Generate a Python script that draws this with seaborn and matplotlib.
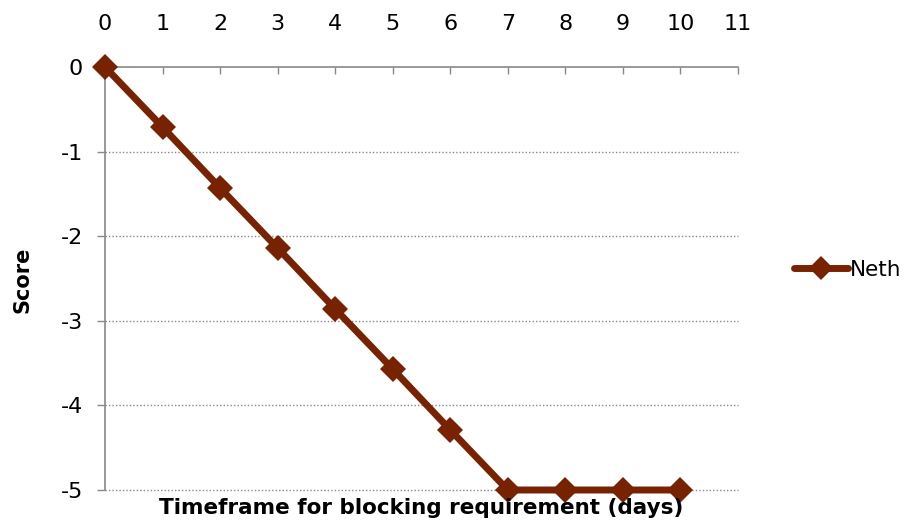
import matplotlib
matplotlib.use("Agg")
import matplotlib.pyplot as plt
import seaborn as sns
import pandas as pd
from matplotlib.lines import Line2D

# Score by blocking-requirement timeframe
days = [0, 1, 2, 3, 4, 5, 6, 7, 8, 9, 10]
score = [0, -0.71, -1.43, -2.14, -2.86, -3.57, -4.29, -5, -5, -5, -5]
series_name = "Neth"
x_ticks = list(range(0, 12))
y_ticks = [0, -1, -2, -3, -4, -5]

line_color = "#772200"
axis_color = "#888888"
text_color = "#000000"

sns.set_style("white")
plt.rcParams["font.family"] = ["DejaVu Sans"]
plt.rcParams["axes.unicode_minus"] = False
plt.rcParams["text.color"] = text_color
plt.rcParams["xtick.labelcolor"] = text_color
plt.rcParams["ytick.labelcolor"] = text_color

df = pd.DataFrame({"days": days, "score": score, "series": series_name})

fig = plt.figure(figsize=(9.08, 5.25), dpi=100)
ax = fig.add_axes([105 / 908, 1 - 490 / 525, (738 - 105) / 908, (490 - 67) / 525])

sns.lineplot(data=df, x="days", y="score", hue="series", palette=[line_color],
             marker="D", markersize=13, linewidth=5, markeredgewidth=0,
             ax=ax, legend=False, clip_on=False, zorder=5)

ax.set_xlim(0, 11)
ax.set_ylim(-5, 0)
ax.set_xticks(x_ticks)
ax.set_yticks(y_ticks)

# horizontal dotted gridlines
for yv in y_ticks[1:]:
    ax.axhline(yv, color=axis_color, linestyle=(0, (1, 1.5)), linewidth=1,
               zorder=1, clip_on=False)

# category axis along the top, value axis on the left
ax.xaxis.tick_top()
ax.tick_params(axis="x", direction="in", length=5, width=1, color=axis_color,
               pad=24, labelsize=16, top=True, bottom=False, labelcolor=text_color)
ax.tick_params(axis="y", direction="out", length=6, width=1, color=axis_color,
               pad=10, labelsize=16, left=True, labelcolor=text_color)

for side in ["bottom", "right"]:
    ax.spines[side].set_visible(False)
for side in ["top", "left"]:
    ax.spines[side].set_visible(True)
    ax.spines[side].set_color(axis_color)
    ax.spines[side].set_linewidth(1.2)

ax.set_xlabel("")
ax.set_ylabel("")
fig.text(421 / 908, 1 - 508 / 525, "Timeframe for blocking requirement (days)",
         ha="center", va="center", fontsize=15.5, fontweight="bold", color=text_color)
fig.text(22 / 908, 1 - 280 / 525, "Score", ha="center", va="center",
         rotation=90, fontsize=15, fontweight="bold", color=text_color)

handle = Line2D([], [], color=line_color, linewidth=5, marker="D",
                markersize=12, markeredgewidth=0)
fig.legend([handle], [series_name], loc="center left",
           bbox_to_anchor=(783 / 908, 1 - 270 / 525), frameon=False,
           fontsize=15.5, handlelength=2.5, handletextpad=0.1, borderpad=0,
           labelcolor=text_color)

fig.savefig("out.png", dpi=100)
